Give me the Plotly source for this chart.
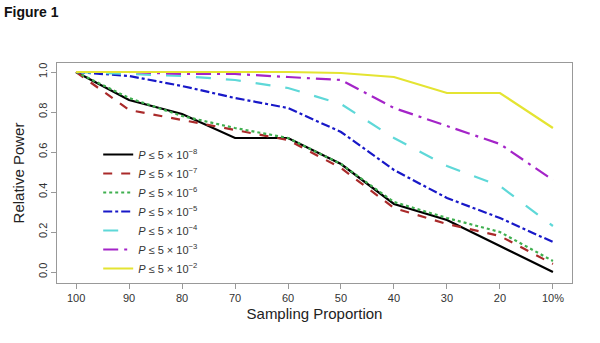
import plotly.graph_objects as go

categories = ["100", "90", "80", "70", "60", "50", "40", "30", "20", "10%"]
series_names = [
    "<i>P</i> ≤ 5 × 10<sup>−8</sup>",
    "<i>P</i> ≤ 5 × 10<sup>−7</sup>",
    "<i>P</i> ≤ 5 × 10<sup>−6</sup>",
    "<i>P</i> ≤ 5 × 10<sup>−5</sup>",
    "<i>P</i> ≤ 5 × 10<sup>−4</sup>",
    "<i>P</i> ≤ 5 × 10<sup>−3</sup>",
    "<i>P</i> ≤ 5 × 10<sup>−2</sup>",
]
p_5e8 = [1.00, 0.86, 0.79, 0.67, 0.67, 0.54, 0.34, 0.26, 0.13, 0.00]
p_5e7 = [1.00, 0.81, 0.76, 0.71, 0.66, 0.52, 0.32, 0.24, 0.18, 0.04]
p_5e6 = [1.00, 0.87, 0.78, 0.72, 0.67, 0.54, 0.35, 0.27, 0.20, 0.055]
p_5e5 = [1.00, 0.98, 0.93, 0.87, 0.82, 0.70, 0.51, 0.37, 0.27, 0.15]
p_5e4 = [1.00, 0.99, 0.98, 0.96, 0.92, 0.84, 0.67, 0.53, 0.43, 0.23]
p_5e3 = [1.00, 1.00, 0.99, 0.99, 0.975, 0.96, 0.82, 0.73, 0.64, 0.46]
p_5e2 = [1.00, 1.00, 1.00, 1.00, 1.00, 0.995, 0.975, 0.895, 0.895, 0.72]
y_ticks = [0.0, 0.2, 0.4, 0.6, 0.8, 1.0]

series = [p_5e8, p_5e7, p_5e6, p_5e5, p_5e4, p_5e3, p_5e2]
colors = ["#000000", "#AA2A2A", "#3FAF4F", "#1818C8", "#5ED8D8", "#A424C8", "#E4E432"]
dashes = ["solid", "dash", "dot", "dashdot", "longdash", "longdashdot", "solid"]

fig = go.Figure()
for name, vals, c, d in zip(series_names, series, colors, dashes):
    fig.add_trace(go.Scatter(
        x=categories, y=vals, mode="lines", name=name,
        line=dict(color=c, width=2.2, dash=d),
    ))

axis_font = dict(family="Liberation Sans, Arial, sans-serif", size=11, color="#333")
fig.update_layout(
    width=600, height=343,
    margin=dict(l=57, r=28, t=63, b=60),
    paper_bgcolor="white", plot_bgcolor="white",
    font=dict(family="Liberation Sans, Arial, sans-serif", color="#222"),
    showlegend=True,
    legend=dict(x=0.08, y=0.0, xanchor="left", yanchor="bottom",
                bgcolor="rgba(0,0,0,0)", font=dict(size=11, color="#333"),
                itemwidth=30, tracegroupgap=0),
    xaxis=dict(
        type="category", range=[-0.36, 9.36], automargin=False,
        showline=True, mirror=True, linecolor="#999", linewidth=1,
        ticks="outside", ticklen=5, tickcolor="#999",
        showgrid=False, zeroline=False, tickfont=axis_font,
        title=dict(text="Sampling Proportion", font=dict(size=15, color="#222"), standoff=5),
    ),
    yaxis=dict(
        range=[-0.055, 1.045], tickvals=y_ticks, tickformat=".1f", tickangle=-90,
        automargin=False,
        showline=True, mirror=True, linecolor="#999", linewidth=1,
        ticks="outside", ticklen=5, tickcolor="#999",
        showgrid=False, zeroline=False, tickfont=axis_font,
        title=dict(text="Relative Power", font=dict(size=15, color="#222"), standoff=8),
    ),
    annotations=[dict(
        text="<b>Figure 1</b>", xref="paper", yref="paper",
        x=-0.106, y=1.232, xanchor="left", yanchor="middle", showarrow=False,
        font=dict(size=14, color="#111", family="Liberation Sans, Arial, sans-serif"),
    )],
)

fig.write_html("out.html", config={"displayModeBar": False},
               post_script="document.body.style.margin='0px';")
